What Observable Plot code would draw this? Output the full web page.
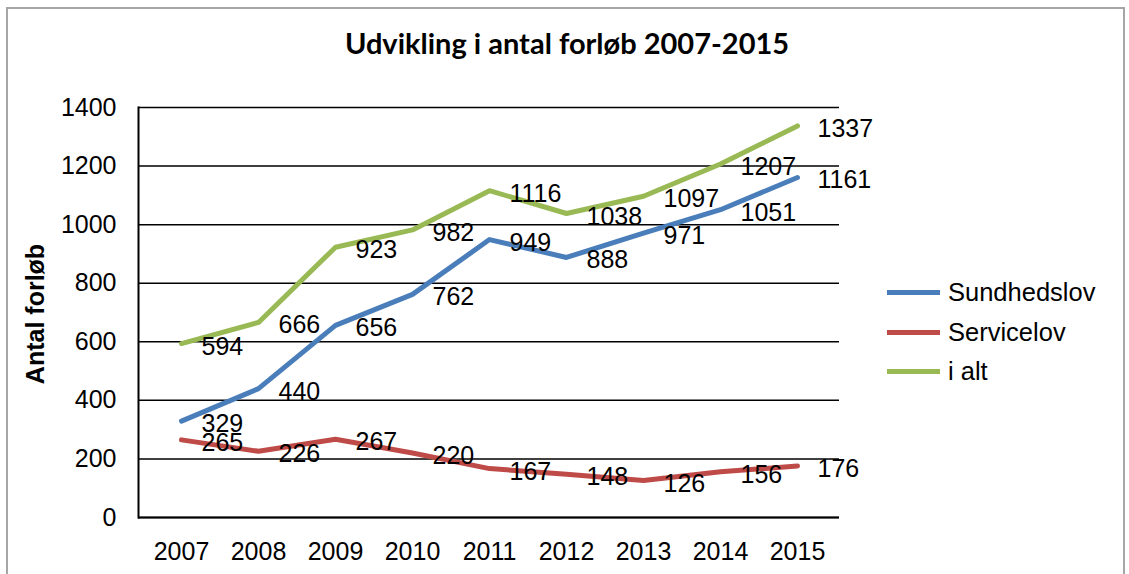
<!DOCTYPE html>
<html><head><meta charset="utf-8">
<script src="https://cdn.jsdelivr.net/npm/d3@7"></script>
<script src="https://cdn.jsdelivr.net/npm/@observablehq/plot@0.6"></script>
<style>
body{margin:0;background:#fff;}
#wrap{position:relative;width:1129px;height:574px;overflow:hidden;font-family:"Liberation Sans",Arial,sans-serif;color:#000;}
#frame{position:absolute;left:6px;top:7px;width:1119px;height:620px;border:2px solid #a6a6a6;box-sizing:border-box;}
#chart{position:absolute;left:0;top:0;}
#title{position:absolute;left:0;top:28px;width:1134px;text-align:center;font-family:Lato,"Open Sans",sans-serif;font-weight:bold;font-size:29px;line-height:30px;}
#ylabel{position:absolute;left:-65px;top:300px;width:200px;text-align:center;font-weight:bold;font-size:25px;line-height:28px;transform:rotate(-90deg);}
#legend{position:absolute;left:887px;top:273px;}
.item{display:flex;align-items:center;height:39.5px;font-size:25.5px;}
.sw{width:53px;height:5px;margin-right:8px;}
</style></head>
<body>
<div id="wrap">
  <div id="frame"></div>
  <div id="chart"></div>
  <div id="title"></div>
  <div id="ylabel"></div>
  <div id="legend"></div>
</div>
<script>
const titleText = "Udvikling i antal forløb 2007-2015";
const yLabelText = "Antal forløb";
const years = [2007, 2008, 2009, 2010, 2011, 2012, 2013, 2014, 2015];
const sundhedslov = [329, 440, 656, 762, 949, 888, 971, 1051, 1161];
const servicelov = [265, 226, 267, 220, 167, 148, 126, 156, 176];
const iAlt = [594, 666, 923, 982, 1116, 1038, 1097, 1207, 1337];
const seriesNames = ["Sundhedslov", "Servicelov", "i alt"];
const yTicks = [0, 200, 400, 600, 800, 1000, 1200, 1400];
const colors = ["#4a7ebb", "#be4b48", "#98b954"];

const seriesValues = [sundhedslov, servicelov, iAlt];
const rows = [];
seriesNames.forEach((name, i) => {
  years.forEach((yr, j) => rows.push({series: name, year: yr, value: seriesValues[i][j]}));
});

document.getElementById("title").textContent = titleText;
document.getElementById("ylabel").textContent = yLabelText;

const plot = Plot.plot({
  width: 1129,
  height: 574,
  marginLeft: 138,
  marginRight: 290,
  marginTop: 107,
  marginBottom: 57,
  x: {type: "point", domain: years, padding: 0.5},
  y: {domain: [0, 1400]},
  color: {domain: seriesNames, range: colors},
  style: {fontFamily: "'Liberation Sans', Arial, sans-serif", fontSize: "25px", color: "#000", background: "transparent", overflow: "visible"},
  marks: [
    Plot.gridY(yTicks, {stroke: "#000", strokeOpacity: 1, strokeWidth: 1.5}),
    Plot.frame({anchor: "left", stroke: "#000", strokeWidth: 2}),
    Plot.ruleY([0], {stroke: "#000", strokeWidth: 2}),
    Plot.axisY(yTicks, {tickSize: 0, tickPadding: 22, fontSize: 25, label: null, tickFormat: d => String(d)}),
    Plot.axisX({tickSize: 0, tickPadding: 25, fontSize: 25, label: null, tickFormat: d => String(d)}),
    Plot.line(rows, {x: "year", y: "value", z: "series", stroke: "series", strokeWidth: 5, strokeLinejoin: "round", strokeLinecap: "round"}),
    Plot.text(rows, {x: "year", y: "value", text: d => String(d.value), dx: 20, dy: 3, textAnchor: "start", fill: "#000", fontSize: 25})
  ]
});
document.getElementById("chart").appendChild(plot);

const legend = document.getElementById("legend");
seriesNames.forEach((name, i) => {
  const item = document.createElement("div");
  item.className = "item";
  const sw = document.createElement("div");
  sw.className = "sw";
  sw.style.background = colors[i];
  const lab = document.createElement("span");
  lab.textContent = name;
  item.appendChild(sw);
  item.appendChild(lab);
  legend.appendChild(item);
});
</script>
</body></html>
